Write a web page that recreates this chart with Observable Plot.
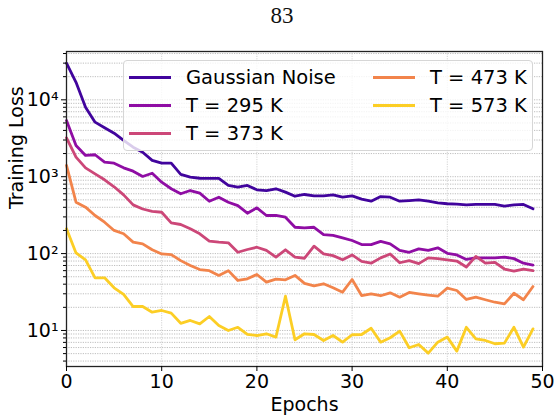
<!DOCTYPE html>
<html>
<head>
<meta charset="utf-8">
<script src="https://cdn.jsdelivr.net/npm/d3@7"></script>
<script src="https://cdn.jsdelivr.net/npm/@observablehq/plot@0.6"></script>
<style>
  html, body { margin: 0; padding: 0; background: #fff; }
  #wrap { position: relative; width: 560px; height: 418px; font-family: "DejaVu Sans", sans-serif; }
  #page { position: absolute; left: 0; width: 560px; top: 3px; text-align: center; font-family: "Liberation Serif", serif; font-size: 23px; color: #111; text-indent: 4px; }
  #legend { position: absolute; left: 123px; top: 60px; width: 408px; height: 89px; border: 1px solid #d6d6d6; border-radius: 4px; background: rgba(255,255,255,0.8); }
  .sw { position: absolute; height: 3px; }
  .lb { position: absolute; font-size: 19.5px; line-height: 22px; color: #000; white-space: nowrap; }
</style>
</head>
<body>
<div id="wrap">
  <div id="page">83</div>
</div>
<script>
// Training loss per epoch for each noise source
const epochs = d3.range(0, 50);
const seriesNames = ["Gaussian Noise", "T = 295 K", "T = 373 K", "T = 473 K", "T = 573 K"];

const gaussianLoss = [29900,16900,8020,5120,4330,3680,2960,2420,2080,1630,
  1500,1500,1070,985,955,950,950,770,731,770,
  676,661,697,630,557,587,563,563,582,541,
  563,510,480,552,541,480,490,500,480,457,
  445,441,431,436,436,436,414,431,436,382];
const loss295 = [5380,2550,1890,1930,1545,1500,1305,1180,1007,1110,
  849,697,600,661,611,480,541,466,420,335,
  394,313,313,297,220,216,220,177,172,160,
  148,131,131,144,134,110,104,115,110,119,
  101,96,84,88,88,88,90,86,75,71];
const loss373 = [3200,1795,1305,1090,912,740,580,430,380,355,
  345,251,239,210,181,145,141,138,104,113,
  121,110,90,112,90,87,125,99,94,83,
  96,79,75,88,99,76,81,74,88,86,
  83,80,67,92,75,77,63,59,63,60];
const loss473 = [1400,466,402,313,256,200,181,141,134,112,
  99,97,81,70,62,60,52,60,44.7,47,
  53.5,42.5,46.5,45.6,52,41,38,40.5,35.9,31.5,
  46,28.5,30,28.3,30.9,27.1,31.2,30,28.8,27.9,
  35.5,33.1,25.3,27.1,25.1,23.3,22.2,30.5,25.1,37.3];
const loss573 = [210,102,83,48.4,48.4,35.9,29.4,20.5,20.5,17.3,
  18.2,16.8,12.4,13.5,12.2,15.2,11.6,10,11.0,8.87,
  8.6,9.06,8.2,27.9,7.57,9.06,8.87,7.41,8.6,7.05,
  8.8,8.87,10.7,7.05,8.04,9.8,5.96,6.58,5.07,7.05,
  8.2,5.39,11.0,7.8,7.41,6.72,6.85,11.0,6.07,10.5];

const xTicks = [0, 10, 20, 30, 40, 50];
const yMajor = [10, 100, 1000, 10000];
const supers = {1: "\u00b9", 2: "\u00b2", 3: "\u00b3", 4: "\u2074"};

const allLoss = [gaussianLoss, loss295, loss373, loss473, loss573];
const colors = [0.1, 0.3, 0.5, 0.7, 0.9].map(t => d3.interpolatePlasma(t));

// log-scale minor ticks 2..9 × each decade inside the visible range
const yMinor = [];
for (const d of [1, 10, 100, 1000, 10000]) for (let k = 2; k <= 9; k++) {
  const v = k * d; if (v > 3.4 && v < 42500) yMinor.push(v);
}
const yGrid = [...yMajor, ...yMinor];

const rows = allLoss.map((vals, s) => vals.map((v, i) => ({epoch: epochs[i], loss: v, s})));

const chart = Plot.plot({
  width: 560, height: 418,
  marginLeft: 66, marginRight: 18, marginTop: 51, marginBottom: 52,
  style: {fontFamily: "DejaVu Sans, sans-serif", fontSize: "19px", color: "#000", background: "transparent"},
  x: {domain: [0, 50], label: null},
  y: {type: "log", domain: [3.4, 42500], label: null},
  marks: [
    Plot.ruleY(yGrid, {stroke: "#b8b8b8", strokeWidth: 0.9, strokeDasharray: "1.2,1.2"}),
    Plot.ruleX(xTicks.slice(1, -1), {stroke: "#cfcfcf", strokeWidth: 0.9, strokeDasharray: "1.2,1.2"}),
    ...rows.map((r, s) => Plot.line(r, {x: "epoch", y: "loss", stroke: colors[s], strokeWidth: 2.8, strokeLinejoin: "round", strokeLinecap: "round"})),
    Plot.frame({stroke: "#222", strokeWidth: 1.3}),
    Plot.axisX({ticks: xTicks, tickSize: 5, tickPadding: 3, tickFormat: d => String(d), fontSize: 19}),
    Plot.axisY({ticks: yMinor, tickSize: 3, tickFormat: () => ""}),
    Plot.axisY({ticks: yMajor, tickSize: 5, tickPadding: 3, fontSize: 19,
      tickFormat: d => "10" + supers[Math.round(Math.log10(d))]}),
    Plot.text(["Epochs"], {frameAnchor: "bottom", dy: 44, fontSize: 19}),
    Plot.text(["Training Loss"], {frameAnchor: "left", dx: -50, rotate: -90, fontSize: 19})
  ]
});

const wrap = document.getElementById("wrap");
wrap.prepend(chart);

// legend: two columns, three rows
const legend = document.createElement("div");
legend.id = "legend";
const slots = [[0, 0], [0, 1], [0, 2], [1, 0], [1, 1]];
seriesNames.forEach((name, i) => {
  const [col, row] = slots[i];
  const cy = 16.5 + row * 28;
  const sx = col === 0 ? 5 : 249;
  const sw = document.createElement("div");
  sw.className = "sw";
  sw.style.left = sx + "px"; sw.style.top = (cy - 1.5) + "px";
  sw.style.width = "42px"; sw.style.background = colors[i];
  const lb = document.createElement("div");
  lb.className = "lb";
  lb.style.left = (sx + 57) + "px"; lb.style.top = (cy - 11) + "px";
  lb.textContent = name;
  legend.append(sw, lb);
});
wrap.append(legend);
chart.style.position = "absolute";
chart.style.left = "0"; chart.style.top = "0";
</script>
</body>
</html>
